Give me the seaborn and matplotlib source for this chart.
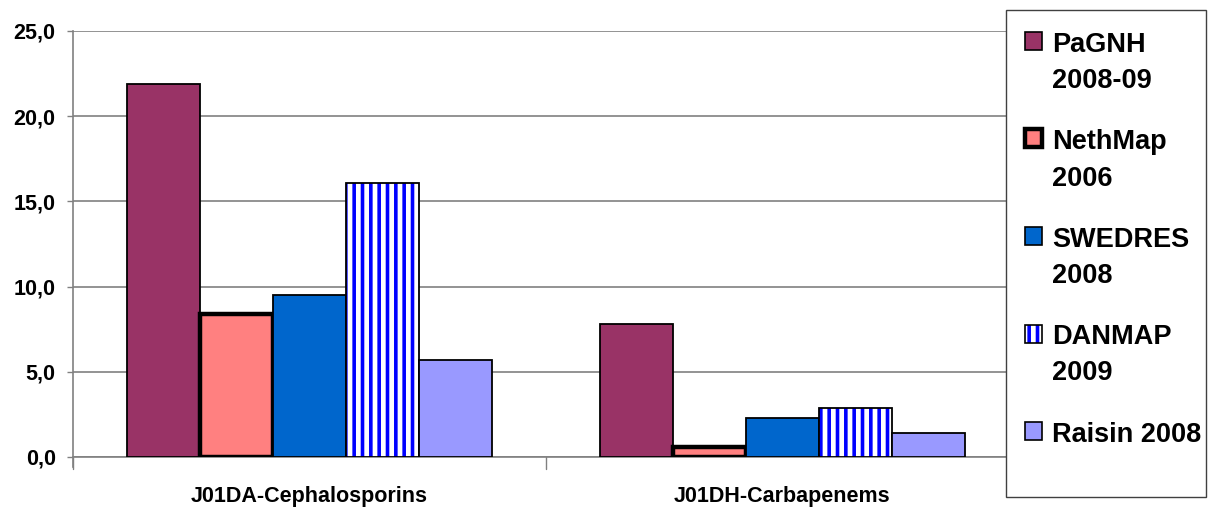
import matplotlib
matplotlib.use('Agg')
import matplotlib.pyplot as plt
import matplotlib.patches as mpatches
import matplotlib.colors as mcolors
import seaborn as sns
import pandas as pd

# data
categories = ['J01DA-Cephalosporins', 'J01DH-Carbapenems']
sources = ['PaGNH 2008-09', 'NethMap 2006', 'SWEDRES 2008', 'DANMAP 2009', 'Raisin 2008']
legend_lines = [['PaGNH', '2008-09'], ['NethMap', '2006'], ['SWEDRES', '2008'],
                ['DANMAP', '2009'], ['Raisin 2008']]
values = {
    'PaGNH 2008-09': [21.9, 7.8],
    'NethMap 2006': [8.4, 0.6],
    'SWEDRES 2008': [9.5, 2.3],
    'DANMAP 2009': [16.1, 2.9],
    'Raisin 2008': [5.7, 1.4],
}
colors = ['#993366', '#ff8080', '#0066cc', '#ffffff', '#9999ff']
y_ticks = [0, 5, 10, 15, 20, 25]

rows = []
for s in sources:
    for c, v in zip(categories, values[s]):
        rows.append({'category': c, 'source': s, 'value': v})
df = pd.DataFrame(rows)

sns.set_style('white')
plt.rcParams['font.family'] = ['Liberation Sans', 'DejaVu Sans']
plt.rcParams['font.weight'] = 'bold'
plt.rcParams['text.color'] = 'black'
plt.rcParams['xtick.color'] = 'black'
plt.rcParams['ytick.color'] = 'black'
plt.rcParams['hatch.linewidth'] = 2.6

W, H = 1208, 508
fig = plt.figure(figsize=(W / 100, H / 100), dpi=100)
ax = fig.add_axes([73 / W, 1 - 457 / H, (1019 - 73) / W, (457 - 31) / H])

sns.barplot(data=df, x='category', y='value', hue='source', hue_order=sources,
            palette=colors, width=0.77, saturation=1, edgecolor='black',
            linewidth=1.3, legend=False, ax=ax, zorder=3)

blue = mcolors.to_rgba('#0000ff')
# per-series styling
for i, cont in enumerate(ax.containers):
    for bar in cont:
        if i == 1:
            bar.set_linewidth(3.2)
        if i == 3:
            bar.set_hatch('||')
            bar._hatch_color = blue

ax.set_ylim(0, 25)
ax.set_xlim(-0.5, 1.5)
ax.set_yticks(y_ticks)
ax.set_yticklabels([f'{t:.1f}'.replace('.', ',') for t in y_ticks])
ax.yaxis.grid(True, color='#808080', linewidth=1.2, zorder=0)
ax.set_axisbelow(True)
ax.set_xlabel('')
ax.set_ylabel('')
ax.set_xticks([0, 1])
ax.set_xticklabels(categories)
ax.tick_params(axis='x', length=0, pad=21, labelsize=15.5)
ax.tick_params(axis='y', length=4.5, width=1, color='#808080', labelsize=15.5, left=True, pad=8)
for t in [-0.5, 0.5, 1.5]:
    ax.plot([t, t], [0, -0.028], transform=ax.get_xaxis_transform(), color='#808080',
            linewidth=1, clip_on=False)
for side in ['top', 'right']:
    ax.spines[side].set_visible(False)
for side in ['left', 'bottom']:
    ax.spines[side].set_color('#808080')
    ax.spines[side].set_linewidth(1.2)
ax.spines['left'].set_bounds(-0.6, 25)

# legend box
box = mpatches.Rectangle((1006 / W, 1 - 497 / H), 200 / W, 487 / H,
                         transform=fig.transFigure, facecolor='white', edgecolor='#404040',
                         linewidth=1, zorder=5)
fig.patches.append(box)

step = 97.5
for i, (lines, c) in enumerate(zip(legend_lines, colors)):
    top = 32 + step * i
    sq = mpatches.Rectangle((1025 / W, 1 - (top + 18) / H), 17 / W, 18 / H,
                            transform=fig.transFigure, facecolor=c, edgecolor='black',
                            linewidth=3.2 if i == 1 else 1.2, zorder=6,
                            hatch='||' if i == 3 else None)
    if i == 3:
        sq._hatch_color = blue
    fig.patches.append(sq)
    for j, line in enumerate(lines):
        base = top + 20 + 36 * j
        fig.text(1052 / W, 1 - base / H, line, fontsize=19.5, fontweight='bold',
                 va='baseline', ha='left', zorder=7)

fig.savefig('out.png', dpi=100)
